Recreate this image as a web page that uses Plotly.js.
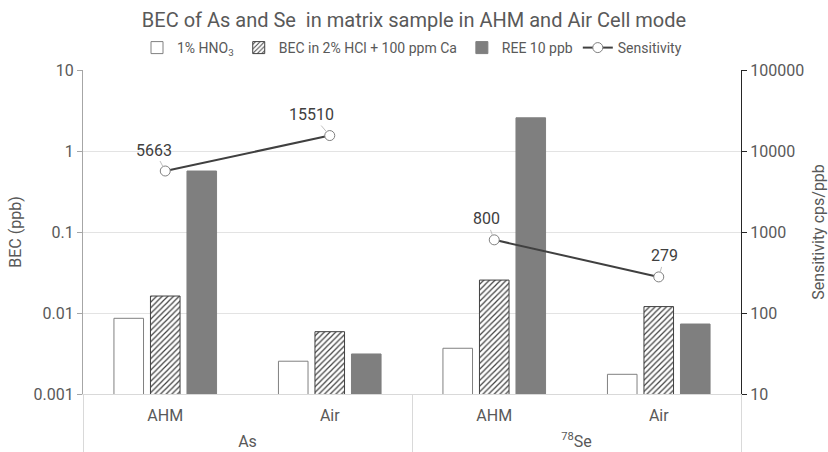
<!DOCTYPE html>
<html>
<head>
<meta charset="utf-8">
<script src="https://cdn.plot.ly/plotly-3.0.1.min.js"></script>
<style>html,body{margin:0;padding:0;background:#fff;overflow:hidden}#chart{width:828px;height:452px}</style>
</head>
<body>
<div id="chart"></div>
<script>
const elements = ["As", "As", "<sup>78</sup>Se", "<sup>78</sup>Se"];
const modes = ["AHM", "Air", "AHM", "Air"];
const hno3 = [0.0086, 0.00254, 0.00367, 0.00175];
const becHCl = [0.0162, 0.00588, 0.0255, 0.0120];
const ree = [0.566, 0.00312, 2.57, 0.00731];
const sensitivity = [5663, 15510, 800, 279];
const leftTicks = [0.001, 0.01, 0.1, 1, 10];
const leftTickText = ["0.001", "0.01", "0.1", "1", "10"];
const rightTicks = [10, 100, 1000, 10000, 100000];
const rightTickText = ["10", "100", "1000", "10000", "100000"];
const labelOffsets = [[-11, -21], [-18, -21], [-8, -21], [6, -21]];

const txt = '#595959';
const fam = 'Roboto, "Open Sans", sans-serif';
const keys = elements.map((e, i) => e + ' | ' + modes[i]);
const uniqueElements = elements.filter((e, i) => elements.indexOf(e) === i);

const traces = [
  {type: 'bar', name: '1% HNO<sub>3</sub>', x: keys, y: hno3, yaxis: 'y',
   marker: {color: '#ffffff', line: {color: '#808080', width: 1}}},
  {type: 'bar', name: 'BEC in 2% HCl + 100 ppm Ca', x: keys, y: becHCl, yaxis: 'y',
   marker: {color: '#ffffff', line: {color: '#404040', width: 1},
            pattern: {shape: '/', fgcolor: '#404040', bgcolor: '#ffffff', size: 4, solidity: 0.3}}},
  {type: 'bar', name: 'REE 10 ppb', x: keys, y: ree, yaxis: 'y',
   marker: {color: '#7f7f7f', line: {color: '#7f7f7f', width: 1}}}
];

// one sensitivity line segment per element
uniqueElements.forEach((el, k) => {
  const idx = elements.map((e, i) => e === el ? i : -1).filter(i => i >= 0);
  traces.push({
    type: 'scatter', mode: 'lines+markers', name: 'Sensitivity', legendgroup: 'sens',
    showlegend: k === 0,
    x: idx.map(i => keys[i]),
    y: idx.map(i => sensitivity[i]), yaxis: 'y2',
    line: {color: '#404040', width: 2},
    marker: {symbol: 'circle', size: 10, color: '#ffffff', line: {color: '#808080', width: 1}}
  });
});

// carrier for the outer (element) category axis
traces.push({type: 'scatter', mode: 'markers', x: uniqueElements, y: uniqueElements.map(() => null),
  xaxis: 'x2', yaxis: 'y', showlegend: false, hoverinfo: 'skip'});

const annotations = sensitivity.map((v, i) => ({
  x: keys[i], y: Math.log10(v), xref: 'x', yref: 'y2',
  text: String(v), showarrow: true, arrowhead: 0, arrowwidth: 1, arrowcolor: '#bfbfbf',
  ax: labelOffsets[i][0], ay: labelOffsets[i][1], standoff: 5,
  font: {family: fam, size: 16, color: '#404040'}
}));

const layout = {
  width: 828, height: 452,
  margin: {l: 83, r: 87, t: 70, b: 58},
  paper_bgcolor: '#ffffff', plot_bgcolor: '#ffffff',
  font: {family: fam, size: 16, color: txt},
  title: {text: 'BEC of As and Se  in matrix sample in AHM and Air Cell mode',
          x: 0.5, xanchor: 'center', y: 1 - 20/452, yanchor: 'middle', yref: 'container',
          font: {family: fam, size: 20, color: txt}},
  barmode: 'group', bargap: 0.334, bargroupgap: 0.19,
  showlegend: true,
  legend: {orientation: 'h', x: 0.5, xanchor: 'center', y: 1 + 22/324, yanchor: 'middle',
           font: {family: fam, size: 14, color: txt}, traceorder: 'normal',
           itemwidth: 30, tracegroupgap: 0},
  xaxis: {type: 'category', categoryorder: 'array', categoryarray: keys,
          tickvals: keys, ticktext: modes, range: [-0.5, keys.length - 0.5],
          showline: true, linecolor: '#d9d9d9', linewidth: 1,
          ticks: '', ticklabelstandoff: 7,
          tickfont: {family: fam, size: 16, color: txt}, showgrid: false, zeroline: false},
  xaxis2: {type: 'category', overlaying: 'x', side: 'bottom', anchor: 'y',
           categoryorder: 'array', categoryarray: uniqueElements,
           range: [-0.5, uniqueElements.length - 0.5],
           showline: false, showgrid: false, zeroline: false,
           ticks: 'outside', tickson: 'boundaries', ticklen: 58, tickcolor: '#d9d9d9', tickwidth: 1,
           ticklabelstandoff: 36,
           tickfont: {family: fam, size: 16, color: txt}},
  yaxis: {type: 'log', range: [-3, 1], tickvals: leftTicks, ticktext: leftTickText,
          showgrid: true, gridcolor: '#e3e3e3', gridwidth: 1,
          showline: true, linecolor: '#a6a6a6', linewidth: 1, ticks: 'outside', ticklen: 5, tickcolor: '#a6a6a6',
          tickfont: {family: fam, size: 16, color: txt},
          title: {text: 'BEC (ppb)', font: {family: fam, size: 16, color: txt}, standoff: 8},
          zeroline: false},
  yaxis2: {type: 'log', range: [1, 5], overlaying: 'y', side: 'right',
           tickvals: rightTicks, ticktext: rightTickText, showgrid: false,
           showline: true, linecolor: '#262626', linewidth: 1, ticks: 'outside', ticklen: 5, tickcolor: '#262626',
           tickfont: {family: fam, size: 16, color: txt},
           title: {text: 'Sensitivity cps/ppb', font: {family: fam, size: 16, color: txt}, standoff: 10},
           zeroline: false},
  annotations: annotations
};

Plotly.newPlot('chart', traces, layout, {displayModeBar: false, staticPlot: true});
</script>
</body>
</html>
